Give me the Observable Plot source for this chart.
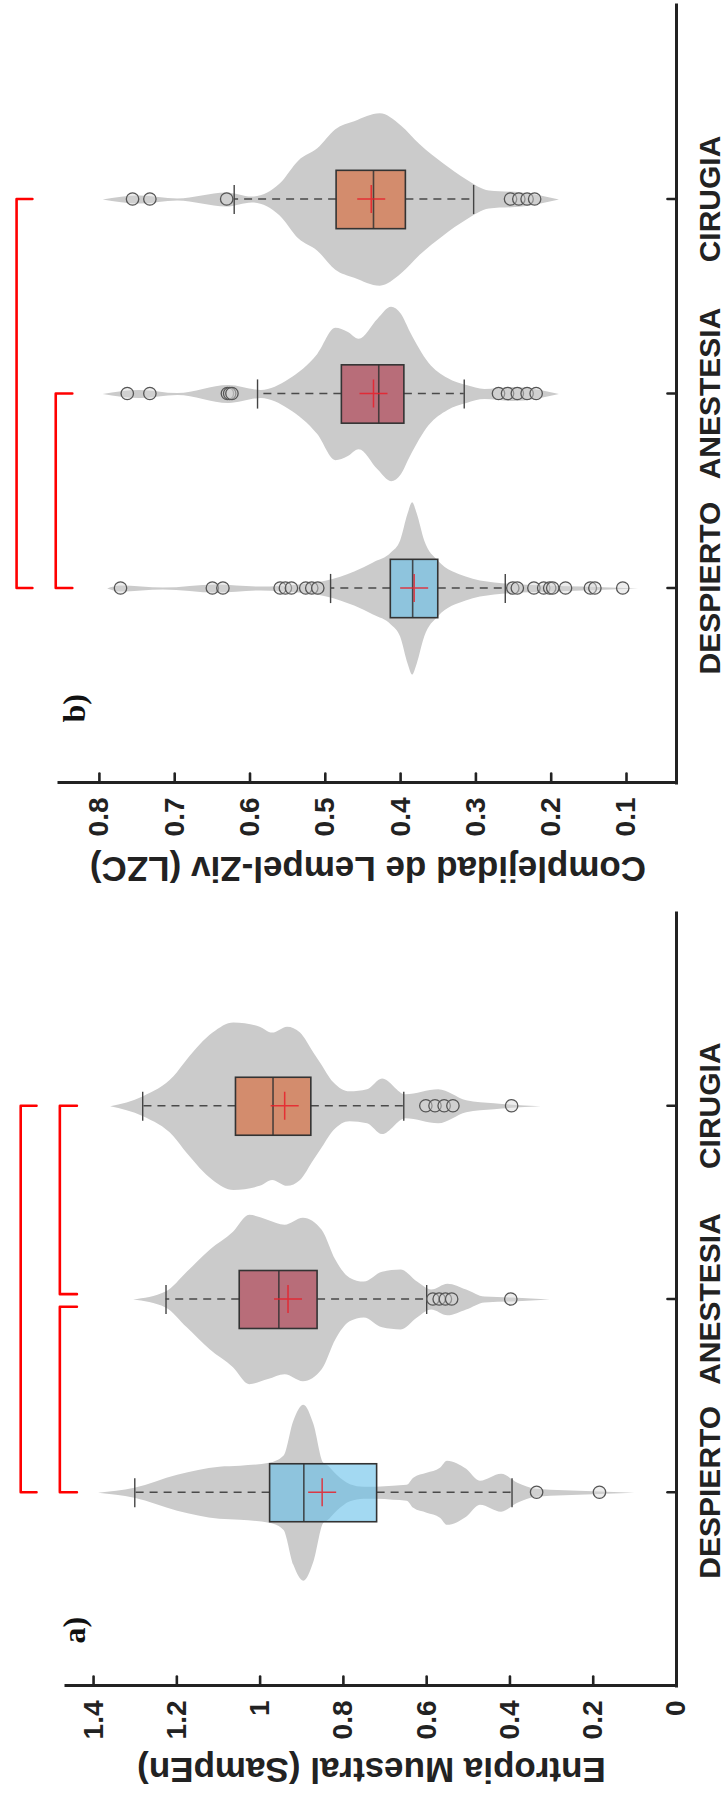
<!DOCTYPE html>
<html>
<head>
<meta charset="utf-8">
<script src="https://cdn.jsdelivr.net/npm/d3@7"></script>
<script src="https://cdn.jsdelivr.net/npm/@observablehq/plot@0.6"></script>
<style>
html, body { margin: 0; padding: 0; background: #fff; overflow: hidden; }
#stage { position: absolute; left: 0; top: 0; width: 1798px; height: 727px;
  transform-origin: 0 0; transform: translate(0, 1798px) rotate(-90deg); background: #fff; }
#stage svg { position: absolute; top: 0; }
</style>
</head>
<body>
<div id="stage"></div>
<script>
// ---------------- DATA ----------------
const categories = ["DESPIERTO", "ANESTESIA", "CIRUGIA"];
const categoryPositions = [1, 2, 3];
const boxColors = ["#65bfea", "#ab2f43", "#d8632f"];

// Panel a) Entropia Muestral (SampEn)
const sampEnTicks = [0, 0.2, 0.4, 0.6, 0.8, 1, 1.2, 1.4];
const sampEnQ1 = [0.719, 0.862, 0.877];
const sampEnMedian = [0.895, 0.955, 0.969];
const sampEnQ3 = [0.976, 1.049, 1.058];
const sampEnMean = [0.851, 0.933, 0.941];
const sampEnWhiskerHigh = [1.301, 1.226, 1.282];
const sampEnWhiskerLow = [0.395, 0.600, 0.655];
const sampEnOutliers = [
  [0.336, 0.185],
  [0.585, 0.570, 0.555, 0.540, 0.398],
  [0.602, 0.580, 0.558, 0.537, 0.396]
];
// violin profiles: [value, half-width in category units]
const sampEnViolinDespierto = [[1.388,0],[1.301,0.026],[1.198,0.093],[1.097,0.135],[1.047,0.140],[0.977,0.155],[0.943,0.191],[0.919,0.373],[0.895,0.455],[0.871,0.357],[0.847,0.155],[0.839,0.145],[0.815,0.093],[0.783,0.044],[0.750,0.031],[0.720,0.031],[0.680,0.036],[0.647,0.041],[0.631,0.078],[0.599,0.103],[0.567,0.129],[0.550,0.166],[0.504,0.124],[0.471,0.062],[0.420,0.098],[0.381,0.052],[0.336,0.021],[0.2,0.008],[0.10,0]];
const sampEnViolinAnestesia = [[1.304,0],[1.226,0.041],[1.175,0.144],[1.12,0.258],[1.064,0.351],[1.025,0.438],[0.98,0.412],[0.94,0.387],[0.896,0.423],[0.851,0.361],[0.818,0.206],[0.784,0.113],[0.75,0.093],[0.706,0.144],[0.661,0.155],[0.622,0.093],[0.588,0.052],[0.549,0.082],[0.504,0.052],[0.46,0.015],[0.392,0.010],[0.303,0]];
const sampEnViolinCirugia = [[1.359,0],[1.28,0.052],[1.207,0.155],[1.175,0.242],[1.113,0.381],[1.063,0.433],[1.0,0.412],[0.97,0.381],[0.934,0.412],[0.903,0.381],[0.871,0.278],[0.855,0.227],[0.823,0.124],[0.784,0.077],[0.742,0.088],[0.706,0.144],[0.650,0.062],[0.571,0.088],[0.504,0.031],[0.437,0.015],[0.325,0]];
const sampEnBrackets = [
  {from: 1, to: 3, level: 1.575, hook: 1.537},
  {from: 1, to: 1.96, level: 1.481, hook: 1.440},
  {from: 2.025, to: 3, level: 1.481, hook: 1.440}
];

// Panel b) Complejidad de Lempel-Ziv (LZC)
const lzcTicks = [0.1, 0.2, 0.3, 0.4, 0.5, 0.6, 0.7, 0.8];
const lzcQ1 = [0.350, 0.395, 0.393];
const lzcMedian = [0.384, 0.429, 0.436];
const lzcQ3 = [0.413, 0.478, 0.485];
const lzcMean = [0.382, 0.436, 0.439];
const lzcWhiskerHigh = [0.493, 0.590, 0.621];
const lzcWhiskerLow = [0.261, 0.3155, 0.303];
const lzcOutliers = [
  [0.772, 0.650, 0.636, 0.560, 0.553, 0.545, 0.526, 0.518, 0.510, 0.251, 0.245, 0.223, 0.210, 0.202, 0.198, 0.181, 0.148, 0.142, 0.105],
  [0.763, 0.733, 0.630, 0.627, 0.624, 0.270, 0.258, 0.245, 0.232, 0.220],
  [0.756, 0.733, 0.631, 0.254, 0.243, 0.232, 0.222]
];
const lzcViolinDespierto = [[0.789,0],[0.772,0.015],[0.715,0.005],[0.644,0.021],[0.585,0.010],[0.535,0.021],[0.498,0.041],[0.461,0.088],[0.436,0.134],[0.412,0.186],[0.400,0.247],[0.390,0.387],[0.384,0.443],[0.378,0.387],[0.368,0.247],[0.350,0.144],[0.313,0.062],[0.275,0.031],[0.238,0.021],[0.158,0.010],[0.084,0]];
const lzcViolinAnestesia = [[0.795,0],[0.746,0.021],[0.696,0.005],[0.628,0.046],[0.585,0.021],[0.548,0.077],[0.510,0.206],[0.486,0.340],[0.470,0.320],[0.455,0.284],[0.430,0.387],[0.412,0.448],[0.399,0.412],[0.387,0.320],[0.362,0.160],[0.337,0.082],[0.312,0.046],[0.288,0.026],[0.251,0.036],[0.189,0]];
const lzcViolinCirugia = [[0.795,0],[0.746,0.021],[0.696,0.005],[0.631,0.036],[0.597,0.015],[0.560,0.082],[0.535,0.201],[0.510,0.263],[0.486,0.361],[0.461,0.402],[0.427,0.443],[0.399,0.381],[0.374,0.284],[0.343,0.186],[0.312,0.103],[0.282,0.046],[0.238,0.036],[0.189,0]];
const lzcBrackets = [
  {from: 1, to: 3, level: 0.910, hook: 0.889},
  {from: 1, to: 2, level: 0.858, hook: 0.836}
];

// ---------------- DRAWING ----------------
const FONT = "'Liberation Sans', Arial, Helvetica, sans-serif";
const INK = "#222";
const tickShape = {draw(context, l) { context.moveTo(0, 0); context.lineTo(0, -l); }};
const crossSymbol = {draw(context, size) {
  const r = Math.sqrt(size / Math.PI);
  context.moveTo(-r, 0); context.lineTo(r, 0);
  context.moveTo(0, -r); context.lineTo(0, r);
}};

function panel(cfg) {
  const idx = [0, 1, 2];
  const pos = i => categoryPositions[i];
  const violinRows = cfg.violins.flatMap((prof, i) => prof.map(([v, w]) => ({cat: i, v, w})));
  const outlierRows = cfg.outliers.flatMap((arr, i) => arr.map(v => ({cat: i, v})));
  const bracketRows = cfg.brackets.flatMap((b, k) => [
    {id: k, x: b.from, y: b.hook}, {id: k, x: b.from, y: b.level},
    {id: k, x: b.to, y: b.level}, {id: k, x: b.to, y: b.hook}
  ]);
  const yMin = cfg.yDomain[0];
  return Plot.plot({
    width: cfg.width, height: 727,
    marginLeft: cfg.margins[0], marginRight: cfg.margins[1],
    marginTop: cfg.margins[2], marginBottom: cfg.margins[3],
    x: {domain: [0, 4]},
    y: {domain: cfg.yDomain},
    style: {fontFamily: FONT, background: "transparent", overflow: "visible", color: INK},
    marks: [
      // violins
      Plot.areaX(violinRows, {y: "v", x1: d => pos(d.cat) - d.w, x2: d => pos(d.cat) + d.w,
        z: "cat", fill: "#cbcbcb", curve: "monotone-y"}),
      // whiskers
      Plot.ruleX(idx, {x: pos, y1: i => cfg.q3[i], y2: i => cfg.wHigh[i], stroke: "#4a4a4a", strokeWidth: 1.6, strokeDasharray: "8,6"}),
      Plot.ruleX(idx, {x: pos, y1: i => cfg.q1[i], y2: i => cfg.wLow[i], stroke: "#4a4a4a", strokeWidth: 1.6, strokeDasharray: "8,6"}),
      Plot.ruleY(idx, {y: i => cfg.wHigh[i], x1: i => pos(i) - 0.075, x2: i => pos(i) + 0.075, stroke: "#444", strokeWidth: 1.4}),
      Plot.ruleY(idx, {y: i => cfg.wLow[i], x1: i => pos(i) - 0.075, x2: i => pos(i) + 0.075, stroke: "#444", strokeWidth: 1.4}),
      // boxes
      Plot.rect(idx, {x1: i => pos(i) - 0.15, x2: i => pos(i) + 0.15, y1: i => cfg.q1[i], y2: i => cfg.q3[i],
        fill: i => boxColors[i], fillOpacity: 0.6, stroke: "#333", strokeWidth: 1.6}),
      Plot.ruleY(idx, {y: i => cfg.median[i], x1: i => pos(i) - 0.15, x2: i => pos(i) + 0.15, stroke: "#333", strokeWidth: 1.6, strokeOpacity: 0.85}),
      // means
      Plot.dot(idx, {x: pos, y: i => cfg.mean[i], r: 14, symbol: crossSymbol, fill: "none", stroke: "#e8202a", strokeWidth: 1.5, strokeOpacity: 0.85}),
      // outliers
      Plot.dot(outlierRows, {x: d => pos(d.cat), y: "v", r: 6.2, fill: "#d6d6d6", fillOpacity: 0.45, stroke: "#555", strokeWidth: 1.3}),
      // significance brackets
      Plot.line(bracketRows, {x: "x", y: "y", z: "id", stroke: "#ff0000", strokeWidth: 2.6, curve: "linear"}),
      // axes lines
      Plot.ruleX([0], {stroke: INK, strokeWidth: 3, strokeLinecap: "square"}),
      Plot.ruleY([yMin], {stroke: INK, strokeWidth: 3, strokeLinecap: "square"}),
      // inward ticks
      Plot.vector(cfg.ticks, {y: d => d, frameAnchor: "left", rotate: 90, length: 9, anchor: "start", shape: tickShape, stroke: INK, strokeWidth: 2.6}),
      Plot.vector(categoryPositions, {x: d => d, frameAnchor: "bottom", rotate: 0, length: 9, anchor: "start", shape: tickShape, stroke: INK, strokeWidth: 2.6}),
      // tick labels
      Plot.axisY({ticks: cfg.ticks, tickFormat: d => String(d), tickSize: 0, tickPadding: 15, label: null,
        fontSize: 28, fontWeight: "bold", fill: INK}),
      Plot.axisX({ticks: categoryPositions, tickFormat: d => categories[d - 1], tickSize: 0, tickPadding: 22, label: null,
        fontSize: 30, fontWeight: "bold", fill: INK}),
      // axis title
      Plot.text([cfg.title], {text: d => d, frameAnchor: "left", dx: cfg.titleDx, rotate: -90, lineAnchor: "top",
        textAnchor: "middle", fontSize: 35, fontWeight: "bold", fill: INK}),
      // panel tag
      Plot.text([cfg.tag], {text: d => d, frameAnchor: "top-left", dx: cfg.tagDx, dy: cfg.tagDy, lineAnchor: "bottom",
        textAnchor: "start", fontSize: 32, fontWeight: "bold", fontFamily: "'Liberation Serif', 'Times New Roman', serif", fill: "#111"})
    ]
  });
}

const stage = document.getElementById("stage");

const panelA = panel({
  width: 900, margins: [112, 15, 66, 51],
  yDomain: [0, 1.465], ticks: sampEnTicks,
  q1: sampEnQ1, median: sampEnMedian, q3: sampEnQ3, mean: sampEnMean,
  wHigh: sampEnWhiskerHigh, wLow: sampEnWhiskerLow, outliers: sampEnOutliers,
  violins: [sampEnViolinDespierto, sampEnViolinAnestesia, sampEnViolinCirugia],
  brackets: sampEnBrackets,
  title: "Entropia Muestral (SampEn)", titleDx: -97,
  tag: "a)", tagDx: 42, tagDy: 18
});
panelA.style.left = "0px";
stage.appendChild(panelA);

const panelB = panel({
  width: 898, margins: [115, 5, 59, 51],
  yDomain: [0.0336, 0.853], ticks: lzcTicks,
  q1: lzcQ1, median: lzcMedian, q3: lzcQ3, mean: lzcMean,
  wHigh: lzcWhiskerHigh, wLow: lzcWhiskerLow, outliers: lzcOutliers,
  violins: [lzcViolinDespierto, lzcViolinAnestesia, lzcViolinCirugia],
  brackets: lzcBrackets,
  title: "Complejidad de Lempel-Ziv (LZC)", titleDx: -99,
  tag: "b)", tagDx: 60, tagDy: 25
});
panelB.style.left = "900px";
stage.appendChild(panelB);
</script>
</body>
</html>
